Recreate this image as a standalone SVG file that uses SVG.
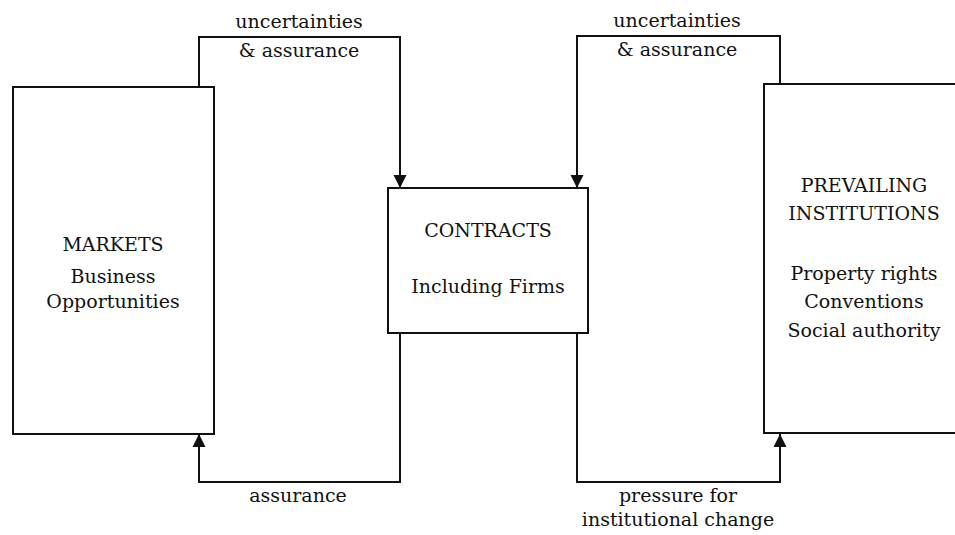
<svg xmlns="http://www.w3.org/2000/svg" width="955" height="535" viewBox="0 0 955 535">
<defs>
<style>
.box{fill:#fff;stroke:#111;stroke-width:2}
.ln{fill:none;stroke:#111;stroke-width:2}
text{font-family:"DejaVu Serif","Liberation Serif",serif;font-size:19px;fill:#111;text-anchor:middle}
</style>
<marker id="ah" viewBox="0 0 10 10" refX="10" refY="5" markerWidth="13" markerHeight="26" markerUnits="userSpaceOnUse" orient="auto">
<path d="M0,0 L10,5 L0,10 z" fill="#111"/>
</marker>
</defs>
<rect width="955" height="535" fill="#fff"/>
<g id="connectors">
<polyline class="ln" points="199,87 199,37 400,37 400,188" marker-end="url(#ah)"/>
<polyline class="ln" points="780,84 780,36 577,36 577,188" marker-end="url(#ah)"/>
<polyline class="ln" points="400,333 400,482 199,482 199,434" marker-end="url(#ah)"/>
<polyline class="ln" points="577,333 577,482 780,482 780,434" marker-end="url(#ah)"/>
<text x="299" y="28">uncertainties</text>
<text x="299" y="57">&amp; assurance</text>
<text x="677" y="27">uncertainties</text>
<text x="677" y="56">&amp; assurance</text>
<text x="298" y="502">assurance</text>
<text x="678" y="502">pressure for</text>
<text x="678" y="526">institutional change</text>
</g>
<g id="markets">
<rect class="box" x="13" y="87" width="201" height="347"/>
<text x="113" y="251">MARKETS</text>
<text x="113" y="283">Business</text>
<text x="113" y="308">Opportunities</text>
</g>
<g id="contracts">
<rect class="box" x="388" y="188" width="200" height="145"/>
<text x="488" y="237">CONTRACTS</text>
<text x="488" y="293">Including Firms</text>
</g>
<g id="institutions">
<rect class="box" x="764" y="84" width="200" height="349"/>
<text x="864" y="192">PREVAILING</text>
<text x="864" y="220">INSTITUTIONS</text>
<text x="864" y="280">Property rights</text>
<text x="864" y="308">Conventions</text>
<text x="864" y="337">Social authority</text>
</g>
</svg>
